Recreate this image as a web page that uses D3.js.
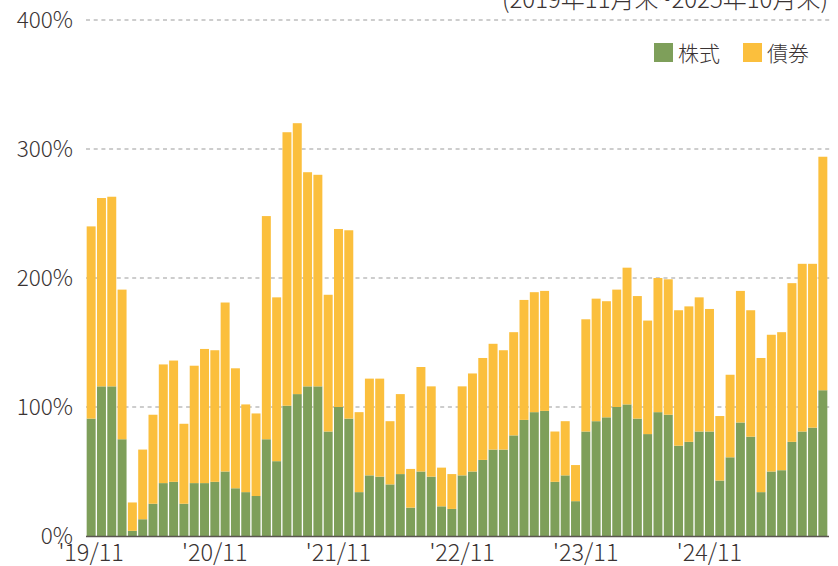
<!DOCTYPE html>
<html>
<head>
<meta charset="utf-8">
<script src="https://cdn.jsdelivr.net/npm/d3@7"></script>
<style>
  body { margin: 0; background: #fff; }
  text { font-family: "Noto Sans CJK JP", "Noto Sans", sans-serif; fill: #3a3333; }
</style>
</head>
<body>
<div class="chart"></div>
<script>
// monthly values, Nov 2019 .. Oct 2025 (%)
const months = d3.range(72).map(i => {
    const y = 2019 + Math.floor((10 + i) / 12), m = (10 + i) % 12 + 1;
    return `'${String(y).slice(2)}/${m}`;
});
const stocks = [91, 116, 116, 75, 4, 13, 25, 41, 42, 25, 41, 41, 42, 50, 37, 34, 31, 75, 58, 101,
    110, 116, 116, 81, 100, 91, 34, 47, 46, 40, 48, 22, 50, 46, 23, 21, 47, 50, 59, 67,
    67, 78, 90, 96, 97, 42, 47, 27, 81, 89, 92, 100, 102, 91, 79, 96, 94, 70, 73, 81,
    81, 43, 61, 88, 77, 34, 50, 51, 73, 81, 84, 113];
const totals = [240, 262, 263, 191, 26, 67, 94, 133, 136, 87, 132, 145, 144, 181, 130, 102, 95, 248, 185, 313,
    320, 282, 280, 187, 238, 237, 96, 122, 122, 89, 110, 52, 131, 116, 53, 48, 116, 126, 138, 149,
    144, 158, 183, 189, 190, 81, 89, 55, 168, 184, 182, 191, 208, 186, 167, 200, 199, 175, 178, 185,
    176, 93, 125, 190, 175, 138, 156, 158, 196, 211, 211, 294];
const bonds = totals.map((t, i) => t - stocks[i]);
const yTicks = [0, 100, 200, 300, 400];
const xTickLabels = ["'19/11", "'20/11", "'21/11", "'22/11", "'23/11", "'24/11"];
const seriesNames = ["株式", "債券"];
const colors = ["#7e9f5a", "#fbbf3d"];

const width = 838, height = 566;
const margin = { left: 86, right: 10, top: 20, bottom: 30 };

const svg = d3.select(".chart").append("svg")
    .attr("width", width)
    .attr("height", height);

const data = months.map((m, i) => ({ month: m, s: stocks[i], b: bonds[i] }));

const x = d3.scaleBand()
    .domain(months)
    .range([margin.left, 828])
    .paddingInner(0.13)
    .paddingOuter(0.065);

const y = d3.scaleLinear()
    .domain([0, 400])
    .range([536, 20]);

// grid
svg.append("g")
    .selectAll("line")
    .data(yTicks.filter(d => d > 0))
    .join("line")
    .attr("x1", 86)
    .attr("x2", 830)
    .attr("y1", d => y(d))
    .attr("y2", d => y(d))
    .attr("stroke", "#bdbdbd")
    .attr("stroke-width", 1.5)
    .attr("stroke-dasharray", "4,3.7");

// y labels
svg.append("g")
    .selectAll("text")
    .data(yTicks)
    .join("text")
    .attr("x", 73)
    .attr("y", d => y(d))
    .attr("dy", "0.34em")
    .attr("text-anchor", "end")
    .attr("font-size", 22.5)
    .attr("font-weight", 300)
    .text(d => d + "%");

const stack = d3.stack().keys(["s", "b"])(data);

svg.append("g")
    .selectAll("g")
    .data(stack)
    .join("g")
    .attr("fill", (d, i) => colors[i])
    .selectAll("rect")
    .data(d => d)
    .join("rect")
    .attr("x", d => x(d.data.month))
    .attr("width", x.bandwidth())
    .attr("y", d => y(d[1]))
    .attr("height", d => y(d[0]) - y(d[1]));

// baseline
svg.append("line")
    .attr("x1", 86)
    .attr("x2", 829)
    .attr("y1", y(0) + 0.5)
    .attr("y2", y(0) + 0.5)
    .attr("stroke", "#5a5550")
    .attr("stroke-width", 1.5);

// x labels
svg.append("g")
    .selectAll("text")
    .data(xTickLabels)
    .join("text")
    .attr("x", d => x(d) + x.bandwidth() / 2)
    .attr("y", 561)
    .attr("text-anchor", "middle")
    .attr("font-size", 23.5)
    .attr("font-weight", 300)
    .text(d => d);

// period note
svg.append("text")
    .attr("x", 828)
    .attr("y", 8)
    .attr("text-anchor", "end")
    .attr("font-size", 24)
    .attr("font-weight", 300)
    .text("(2019年11月末~2025年10月末)");

// legend
const legendX = [654, 743];
const legend = svg.append("g")
    .selectAll("g")
    .data(seriesNames)
    .join("g")
    .attr("transform", (d, i) => `translate(${legendX[i]},43)`);

legend.append("rect")
    .attr("width", 19)
    .attr("height", 19)
    .attr("fill", (d, i) => colors[i]);

legend.append("text")
    .attr("x", 24)
    .attr("y", 10)
    .attr("dy", "0.36em")
    .attr("font-size", 21)
    .attr("font-weight", 300)
    .text(d => d);
</script>
</body>
</html>
